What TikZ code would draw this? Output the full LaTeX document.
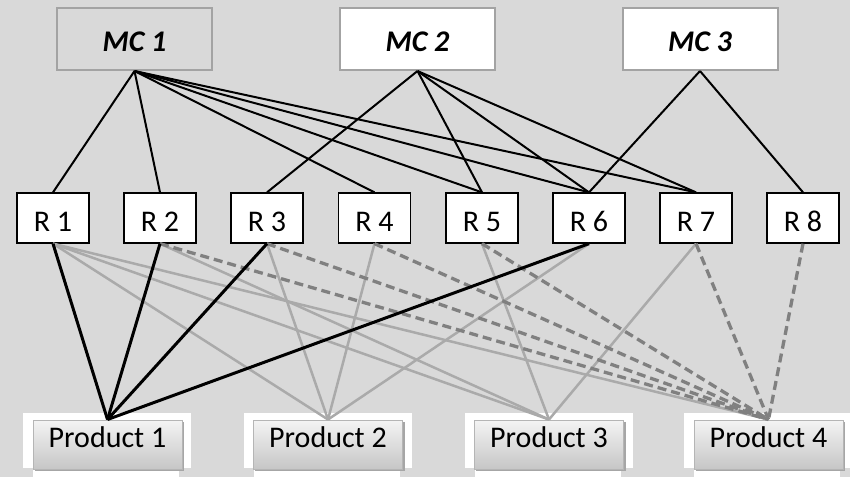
\documentclass[tikz,border=0pt]{standalone}
\usepackage{fontspec}
\setmainfont{Carlito}
\begin{document}
\begin{tikzpicture}[x=1pt,y=-1pt,
  mcbox/.style={draw=mcborder,line width=2pt,minimum width=155pt,minimum height=62pt,inner sep=0pt,
    text height=25.4pt,text depth=0pt,font=\fontsize{30}{36}\selectfont\bfseries\itshape},
  rbox/.style={draw=black,line width=1.3pt,fill=white,minimum width=72pt,minimum height=50pt,inner sep=0pt,
    text height=27.4pt,text depth=0pt,font=\fontsize{30}{36}\selectfont},
  pbox/.style={draw=pborder,line width=1pt,top color=ptop,bottom color=pbottom,minimum width=149pt,
    minimum height=49pt,inner sep=0pt,text height=5pt,text depth=0pt,font=\fontsize{30}{36}\selectfont},
  mclink/.style={draw=black,line width=2pt},
  keylink/.style={draw=black,line width=3pt},
  softlink/.style={draw=softgray,line width=2.5pt},
  dashlink/.style={draw=dashgray,line width=3.3pt,dash pattern=on 9pt off 5pt}
]
\definecolor{bg}{HTML}{D9D9D9}
\definecolor{mcborder}{HTML}{A3A3A3}
\definecolor{softgray}{HTML}{AAAAAA}
\definecolor{dashgray}{HTML}{808080}
\definecolor{pborder}{HTML}{B5B5B5}
\definecolor{ptop}{HTML}{F4F4F4}
\definecolor{pbottom}{HTML}{C6C6C6}

\fill[bg] (0,0) rectangle (850,477);
\useasboundingbox (0,0) rectangle (850,477);

% machine centres
\node[mcbox,fill=bg]    (mc1) at (134.5,39) {MC 1};
\node[mcbox,fill=white] (mc2) at (417.5,39) {MC 2};
\node[mcbox,fill=white] (mc3) at (700,39)   {MC 3};

% resources
\foreach \i/\x in {1/53,2/160,3/267,4/374.5,5/482,6/589,7/696,8/803}
  \node[rbox] (r\i) at (\x,218) {R \i};

% white frames and products
\foreach \i/\x in {1/107.5,2/328,3/549,4/768.5}{
  \fill[white] (\x-84.5,413) rectangle (\x+83.5,468);
  \fill[white] (\x-74.5,468) rectangle (\x+71.5,477);
  \fill[black!35] (\x-73,421.5) rectangle (\x+76.5,470.5);
  \node[pbox] (p\i) at (\x,444.5) {Product \i};
}

% machine centre to resource links
\foreach \r in {1,2,4,5,6,7} \draw[mclink] (mc1.south) -- (r\r.north);
\foreach \r in {3,5,6,7} \draw[mclink] (mc2.south) -- (r\r.north);
\foreach \r in {6,8} \draw[mclink] (mc3.south) -- (r\r.north);

% resource to product links
\foreach \r/\p in {1/2,1/3,1/4,2/3,3/2,4/2,5/3,6/2,7/3}
  \draw[softlink] (r\r.south) -- (p\p.north);
\foreach \r in {2,3,4,5,7,8}
  \draw[dashlink] (r\r.south) -- (p4.north);
\foreach \r in {1,2,3,6}
  \draw[keylink] (r\r.south) -- (p1.north);
\end{tikzpicture}
\end{document}
